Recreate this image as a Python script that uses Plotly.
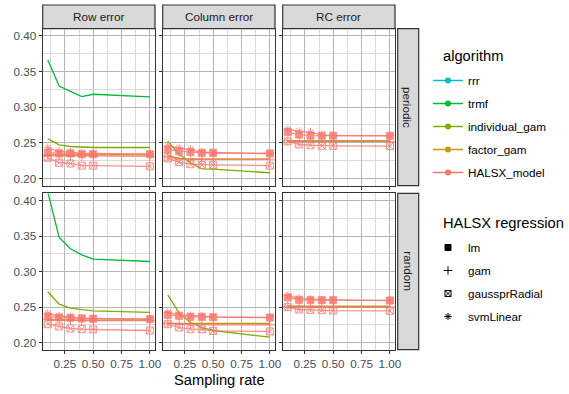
import plotly.graph_objects as go

W, H = 569, 394

sampling_rate = [0.1, 0.2, 0.3, 0.4, 0.5, 1.0]
error_types = ["Row error", "Column error", "RC error"]
designs = ["periodic", "random"]
algorithms = ["rrr", "trmf", "individual_gam", "factor_gam", "HALSX_model"]
regressions = ["lm", "gam", "gaussprRadial", "svmLinear"]

# ---- periodic ----
per_row_trmf = [0.366, 0.3296, 0.322, 0.3147, 0.318, 0.3142]
per_row_indgam = [0.2555, 0.247, 0.2448, 0.2438, 0.2434, 0.2434]
per_row_facgam = [0.233, 0.233, 0.233, 0.233, 0.233, 0.233]
per_row_lm = [0.236, 0.235, 0.235, 0.234, 0.234, 0.234]
per_row_gam = [0.232, 0.232, 0.231, 0.231, 0.231, 0.231]
per_row_gauss = [0.229, 0.222, 0.221, 0.218, 0.218, 0.217]
per_row_svm = [0.243, 0.238, 0.237, 0.235, 0.235, 0.234]

per_col_indgam = [0.252, 0.234, 0.222, 0.2135, 0.213, 0.208]
per_col_facgam = [0.232, 0.228, 0.227, 0.227, 0.227, 0.227]
per_col_lm = [0.240, 0.238, 0.237, 0.236, 0.236, 0.235]
per_col_gam = [0.230, 0.227, 0.227, 0.227, 0.227, 0.227]
per_col_gauss = [0.228, 0.223, 0.220, 0.219, 0.219, 0.218]
per_col_svm = [0.246, 0.243, 0.241, 0.237, 0.236, 0.235]

per_rc_indgam = [0.2525, 0.2525, 0.2525, 0.2525, 0.2525, 0.2525]
per_rc_facgam = [0.252, 0.252, 0.252, 0.252, 0.252, 0.252]
per_rc_lm = [0.265, 0.2615, 0.260, 0.260, 0.260, 0.2597]
per_rc_gam = [0.253, 0.252, 0.252, 0.252, 0.252, 0.252]
per_rc_gauss = [0.252, 0.2476, 0.2466, 0.2457, 0.2457, 0.2452]
per_rc_svm = [0.269, 0.266, 0.265, 0.261, 0.260, 0.260]

# ---- random ----
ran_row_trmf = [0.412, 0.348, 0.332, 0.3235, 0.3174, 0.3141]
ran_row_indgam = [0.2714, 0.254, 0.2484, 0.246, 0.2446, 0.2423]
ran_row_facgam = [0.2315, 0.2315, 0.2315, 0.2315, 0.2315, 0.2315]
ran_row_lm = [0.2366, 0.2352, 0.2347, 0.234, 0.2335, 0.2329]
ran_row_gam = [0.233, 0.232, 0.232, 0.231, 0.231, 0.231]
ran_row_gauss = [0.2258, 0.2225, 0.2197, 0.2188, 0.2183, 0.2169]
ran_row_svm = [0.241, 0.237, 0.236, 0.234, 0.234, 0.233]

ran_col_indgam = [0.2671, 0.2413, 0.2282, 0.2211, 0.2169, 0.2075]
ran_col_facgam = [0.2268, 0.2268, 0.2268, 0.2268, 0.2268, 0.2268]
ran_col_lm = [0.239, 0.2376, 0.2362, 0.2362, 0.2357, 0.2352]
ran_col_gam = [0.2272, 0.226, 0.2255, 0.2255, 0.225, 0.225]
ran_col_gauss = [0.2258, 0.2211, 0.2188, 0.2186, 0.2164, 0.2155]
ran_col_svm = [0.2423, 0.239, 0.238, 0.237, 0.236, 0.235]

ran_rc_indgam = [0.2509, 0.2509, 0.2509, 0.2509, 0.2509, 0.2509]
ran_rc_facgam = [0.2507, 0.2507, 0.2507, 0.2507, 0.2507, 0.2507]
ran_rc_lm = [0.2634, 0.2601, 0.2596, 0.2596, 0.2596, 0.2592]
ran_rc_gam = [0.251, 0.250, 0.250, 0.250, 0.250, 0.250]
ran_rc_gauss = [0.2498, 0.2465, 0.246, 0.2455, 0.245, 0.2446]
ran_rc_svm = [0.2662, 0.262, 0.261, 0.260, 0.260, 0.259]

panels = {
    (0, 0): dict(trmf=per_row_trmf, individual_gam=per_row_indgam, factor_gam=per_row_facgam,
                 lm=per_row_lm, gam=per_row_gam, gaussprRadial=per_row_gauss, svmLinear=per_row_svm),
    (0, 1): dict(individual_gam=per_col_indgam, factor_gam=per_col_facgam,
                 lm=per_col_lm, gam=per_col_gam, gaussprRadial=per_col_gauss, svmLinear=per_col_svm),
    (0, 2): dict(individual_gam=per_rc_indgam, factor_gam=per_rc_facgam,
                 lm=per_rc_lm, gam=per_rc_gam, gaussprRadial=per_rc_gauss, svmLinear=per_rc_svm),
    (1, 0): dict(trmf=ran_row_trmf, individual_gam=ran_row_indgam, factor_gam=ran_row_facgam,
                 lm=ran_row_lm, gam=ran_row_gam, gaussprRadial=ran_row_gauss, svmLinear=ran_row_svm),
    (1, 1): dict(individual_gam=ran_col_indgam, factor_gam=ran_col_facgam,
                 lm=ran_col_lm, gam=ran_col_gam, gaussprRadial=ran_col_gauss, svmLinear=ran_col_svm),
    (1, 2): dict(individual_gam=ran_rc_indgam, factor_gam=ran_rc_facgam,
                 lm=ran_rc_lm, gam=ran_rc_gam, gaussprRadial=ran_rc_gauss, svmLinear=ran_rc_svm),
}

colors = {"rrr": "#00BFC4", "trmf": "#00BA38", "individual_gam": "#7CAE00",
          "factor_gam": "#C49A00", "HALSX_model": "#F8766D"}
symbols = {"lm": "square", "gam": "cross-thin-open", "gaussprRadial": "square-x-open",
           "svmLinear": "asterisk-open"}

# layout geometry in pixels
col_px = [(42.7, 155.0), (162.7, 275.0), (282.7, 395.0)]
row_px = [(28.6, 185.6), (193.4, 349.6)]
strip_top = (5.0, 28.6)
strip_right = (397.7, 418.7)

def px_x(v):
    return v / W

def px_y(v):
    return 1 - v / H

fig = go.Figure()
FONT = "Liberation Sans, Arial, sans-serif"
SMALL = 11.7
BIG = 14.7

for (r, c), d in panels.items():
    idx = r * 3 + c + 1
    xa = "x" if idx == 1 else f"x{idx}"
    ya = "y" if idx == 1 else f"y{idx}"
    for alg in ["trmf", "individual_gam", "factor_gam"]:
        if alg in d:
            fig.add_trace(go.Scatter(x=sampling_rate, y=d[alg], mode="lines",
                                     line=dict(color=colors[alg], width=1.3),
                                     showlegend=False, xaxis=xa, yaxis=ya, hoverinfo="skip"))
    for reg in ["gaussprRadial", "gam", "svmLinear", "lm"]:
        fig.add_trace(go.Scatter(x=sampling_rate, y=d[reg], mode="lines+markers",
                                 line=dict(color=colors["HALSX_model"], width=1.3),
                                 marker=dict(symbol=symbols[reg], size=7, color=colors["HALSX_model"],
                                             line=dict(width=1, color=colors["HALSX_model"])),
                                 opacity=0.8, showlegend=False, xaxis=xa, yaxis=ya,
                                 cliponaxis=True, hoverinfo="skip"))

# legend entries
for i, alg in enumerate(algorithms):
    fig.add_trace(go.Scatter(x=[None], y=[None], mode="lines+markers", name=alg,
                             line=dict(color=colors[alg], width=1.5),
                             marker=dict(symbol="circle", size=6, color=colors[alg]),
                             legend="legend", legendgroup=alg))
for reg in regressions:
    fig.add_trace(go.Scatter(x=[None], y=[None], mode="markers", name=reg,
                             marker=dict(symbol=symbols[reg], size=6, color="black",
                                         line=dict(width=1, color="black")),
                             legend="legend2", legendgroup=reg))

layout = dict(width=W, height=H, margin=dict(l=0, r=0, t=0, b=0, pad=0, autoexpand=False),
              plot_bgcolor="white", paper_bgcolor="white",
              font=dict(family=FONT, size=SMALL, color="#1A1A1A"))

for r in range(2):
    for c in range(3):
        idx = r * 3 + c + 1
        xk = "xaxis" if idx == 1 else f"xaxis{idx}"
        yk = "yaxis" if idx == 1 else f"yaxis{idx}"
        ya_anchor = "y" if idx == 1 else f"y{idx}"
        xa_anchor = "x" if idx == 1 else f"x{idx}"
        x0, x1 = col_px[c]
        y0, y1 = row_px[r]
        layout[xk] = dict(domain=[px_x(x0), px_x(x1)], anchor=ya_anchor, range=[0.055, 1.045],
                          tickvals=[0.25, 0.5, 0.75, 1.0], ticktext=["0.25", "0.50", "0.75", "1.00"],
                          showticklabels=(r == 1), ticks="outside", ticklen=3, tickcolor="#333333",
                          tickfont=dict(size=SMALL, color="#4D4D4D"), automargin=False,
                          showgrid=True, gridcolor="#B5B5B5", gridwidth=1.3,
                          minor=dict(tickvals=[0.125, 0.375, 0.625, 0.875], showgrid=True,
                                     gridcolor="#DADADA", gridwidth=0.8, ticks=""),
                          showline=True, mirror=True, linecolor="#333333", linewidth=1.2,
                          zeroline=False, fixedrange=True)
        layout[yk] = dict(domain=[px_y(y1), px_y(y0)], anchor=xa_anchor, range=[0.19, 0.41],
                          tickvals=[0.20, 0.25, 0.30, 0.35, 0.40],
                          ticktext=["0.20", "0.25", "0.30", "0.35", "0.40"],
                          showticklabels=(c == 0), ticks="outside", ticklen=3, tickcolor="#333333",
                          tickfont=dict(size=SMALL, color="#4D4D4D"), automargin=False,
                          showgrid=True, gridcolor="#B5B5B5", gridwidth=1.3,
                          minor=dict(tickvals=[0.225, 0.275, 0.325, 0.375], showgrid=True,
                                     gridcolor="#DADADA", gridwidth=0.8, ticks=""),
                          showline=True, mirror=True, linecolor="#333333", linewidth=1.2,
                          zeroline=False, fixedrange=True)

shapes = []
annotations = []
for c, name in enumerate(error_types):
    x0, x1 = col_px[c]
    shapes.append(dict(type="rect", xref="paper", yref="paper", x0=px_x(x0), x1=px_x(x1),
                       y0=px_y(strip_top[1]), y1=px_y(strip_top[0]),
                       fillcolor="#D9D9D9", line=dict(color="#333333", width=1.2), layer="below"))
    annotations.append(dict(text=name, xref="paper", yref="paper", x=px_x((x0 + x1) / 2),
                            y=px_y((strip_top[0] + strip_top[1]) / 2), showarrow=False,
                            font=dict(size=SMALL, color="#1A1A1A"), xanchor="center", yanchor="middle"))
for r, name in enumerate(designs):
    y0, y1 = row_px[r]
    shapes.append(dict(type="rect", xref="paper", yref="paper", x0=px_x(strip_right[0]),
                       x1=px_x(strip_right[1]), y0=px_y(y1), y1=px_y(y0),
                       fillcolor="#D9D9D9", line=dict(color="#333333", width=1.2), layer="below"))
    annotations.append(dict(text=name, xref="paper", yref="paper",
                            x=px_x((strip_right[0] + strip_right[1]) / 2),
                            y=px_y((y0 + y1) / 2), showarrow=False, textangle=90,
                            font=dict(size=SMALL, color="#1A1A1A"), xanchor="center", yanchor="middle"))
annotations.append(dict(text="Sampling rate", xref="paper", yref="paper", x=px_x(219), y=px_y(380),
                        showarrow=False, font=dict(size=BIG, color="black"),
                        xanchor="center", yanchor="middle"))
# legend titles
annotations.append(dict(text="algorithm", xref="paper", yref="paper", x=px_x(441), y=px_y(56),
                        showarrow=False, font=dict(size=BIG, color="black"),
                        xanchor="left", yanchor="middle"))
annotations.append(dict(text="HALSX regression", xref="paper", yref="paper", x=px_x(441), y=px_y(223),
                        showarrow=False, font=dict(size=BIG, color="black"),
                        xanchor="left", yanchor="middle"))

layout["shapes"] = shapes
layout["annotations"] = annotations
layout["legend"] = dict(x=px_x(428), y=px_y(66), xanchor="left", yanchor="top",
                        font=dict(size=SMALL, color="black"), itemwidth=30,
                        tracegroupgap=4, bgcolor="rgba(0,0,0,0)")
layout["legend2"] = dict(x=px_x(428), y=px_y(233), xanchor="left", yanchor="top",
                         font=dict(size=SMALL, color="black"), itemwidth=30,
                         tracegroupgap=4, bgcolor="rgba(0,0,0,0)")

fig.update_layout(**layout)
fig.write_html("out.html", config={"displayModeBar": False},
               post_script=["document.body.style.margin='0px';document.body.style.padding='0px';"])
